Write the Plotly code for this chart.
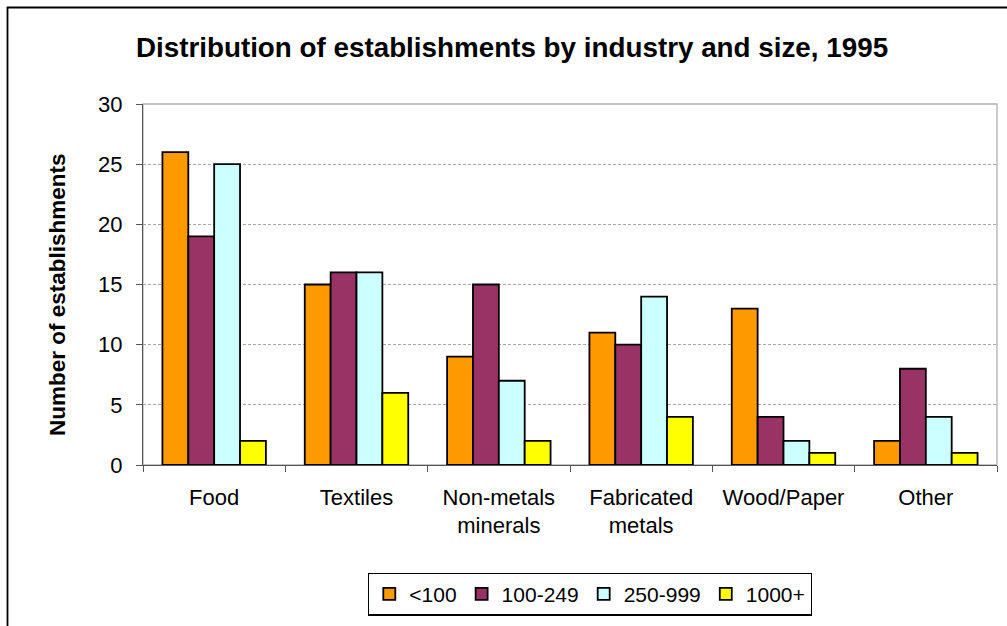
import plotly.graph_objects as go

categories = ["Food", "Textiles", "Non-metals<br>minerals", "Fabricated<br>metals", "Wood/Paper", "Other"]
size_classes = ["<100", "100-249", "250-999", "1000+"]
under_100 = [26, 15, 9, 11, 13, 2]
from_100_to_249 = [19, 16, 15, 10, 4, 8]
from_250_to_999 = [25, 16, 7, 14, 2, 4]
over_1000 = [2, 6, 2, 4, 1, 1]
y_ticks = [0, 5, 10, 15, 20, 25, 30]

series = [under_100, from_100_to_249, from_250_to_999, over_1000]
colors = ["#FF9900", "#993366", "#CCFFFF", "#FFFF00"]

FONT = "Liberation Sans, Arial, sans-serif"

fig = go.Figure()
for name, vals, col in zip(size_classes, series, colors):
    fig.add_trace(go.Bar(
        x=categories, y=vals, name=name,
        marker=dict(color=col, line=dict(color="black", width=1.8)),
    ))

W, H = 1007, 626
L, R, T, B = 143, 10, 104, 161
pw, ph = W - L - R, H - T - B

def px_x(px):
    return (px - L) / pw

def px_y(py):
    return (H - B - py) / ph

fig.update_layout(
    width=W, height=H,
    margin=dict(l=L, r=R, t=T, b=B, autoexpand=False),
    paper_bgcolor="white", plot_bgcolor="white",
    barmode="group", bargap=0.273, bargroupgap=0,
    font=dict(family=FONT, size=22, color="black"),
    title=dict(
        text="<b>Distribution of establishments by industry and size, 1995</b>",
        font=dict(family=FONT, size=27.8, color="black"),
        xref="paper", x=px_x(512), xanchor="center",
        yref="container", y=1 - 47 / H, yanchor="middle",
    ),
    xaxis=dict(
        showline=True, linecolor="#555555", linewidth=1.3,
        ticks="outside", ticklen=6, tickcolor="#555555", tickwidth=1.3,
        tickson="boundaries", showgrid=False, ticklabelstandoff=12,
        tickfont=dict(family=FONT, size=22, color="black"),
    ),
    yaxis=dict(
        range=[0, 30], tickvals=y_ticks,
        showline=True, linecolor="#555555", linewidth=1.3,
        ticks="outside", ticklen=6, tickcolor="#555555", tickwidth=1.3,
        showgrid=True, gridcolor="#A8A8A8", gridwidth=1, griddash="3px,2px",
        zeroline=False, ticklabelstandoff=9,
        tickfont=dict(family=FONT, size=22, color="black"),
    ),
    legend=dict(
        orientation="h", x=px_x(590), xanchor="center",
        y=px_y(594), yanchor="middle",
        bordercolor="black", borderwidth=1.3, bgcolor="white",
        font=dict(family=FONT, size=21, color="black"),
        traceorder="normal",
    ),
    annotations=[dict(
        text="<b>Number of establishments</b>", textangle=-90,
        xref="paper", yref="paper", x=px_x(57), y=px_y(295),
        xanchor="center", yanchor="middle", showarrow=False,
        font=dict(family=FONT, size=22.5, color="black"),
    )],
    shapes=[
        # plot-area frame
        dict(type="rect", xref="paper", yref="paper", x0=0, x1=1, y0=0, y1=1,
             line=dict(color="#B0B0B0", width=1.3), layer="below"),
        # outer chart border
        dict(type="rect", xref="paper", yref="paper",
             x0=px_x(7.5), x1=px_x(1100), y0=px_y(700), y1=px_y(7.5),
             line=dict(color="black", width=1.8), layer="below"),
    ],
)

fig.write_html("out.html")
